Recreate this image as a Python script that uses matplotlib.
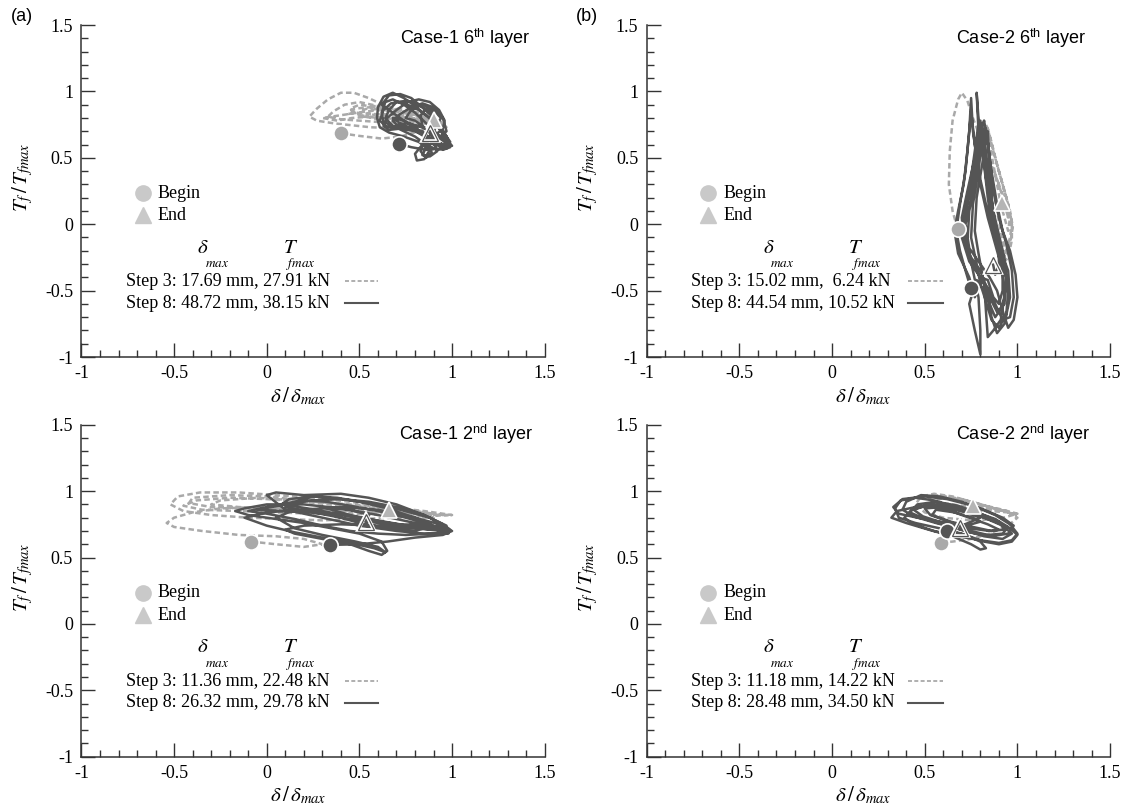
import matplotlib
matplotlib.use("Agg")
import matplotlib.pyplot as plt
from matplotlib.ticker import MultipleLocator, FuncFormatter

plt.rcParams["font.family"] = ["Liberation Serif", "DejaVu Serif"]
plt.rcParams["mathtext.fontset"] = "stix"
plt.rcParams["axes.unicode_minus"] = False

# ---------------- data: normalized displacement / friction force ----------------
# Case-1, 6th layer
c1l6_s3_d = [0.40, 0.50, 0.62, 0.72, 0.82, 0.92, 0.97, 0.93, 0.84, 0.74, 0.64, 0.55, 0.47, 0.40, 0.33, 0.27, 0.23,
             0.27, 0.36, 0.46, 0.56, 0.66, 0.76, 0.86, 0.94, 0.90, 0.80, 0.70, 0.60, 0.50, 0.42, 0.36, 0.33,
             0.40, 0.50, 0.60, 0.70, 0.80, 0.90, 0.85, 0.75, 0.65, 0.55, 0.47, 0.44,
             0.48, 0.58, 0.68, 0.78, 0.86, 0.80, 0.70, 0.60, 0.50, 0.45, 0.50, 0.60, 0.70, 0.80, 0.88, 0.82,
             0.72, 0.62, 0.54, 0.30, 0.38, 0.46, 0.56, 0.66, 0.76, 0.84, 0.78, 0.68, 0.58, 0.52,
             0.52, 0.62, 0.72, 0.82, 0.96, 0.88, 0.76, 0.64, 0.56, 0.54, 0.62, 0.72, 0.82, 0.90]
c1l6_s3_t = [0.685, 0.665, 0.645, 0.66, 0.70, 0.74, 0.73, 0.78, 0.82, 0.85, 0.89, 0.95, 0.99, 0.99, 0.94, 0.87, 0.81,
             0.78, 0.76, 0.745, 0.73, 0.725, 0.74, 0.76, 0.77, 0.80, 0.83, 0.86, 0.89, 0.92, 0.90, 0.85, 0.81,
             0.79, 0.78, 0.77, 0.765, 0.77, 0.78, 0.81, 0.84, 0.86, 0.88, 0.87, 0.83,
             0.84, 0.83, 0.82, 0.80, 0.79, 0.83, 0.86, 0.88, 0.90, 0.87, 0.82, 0.79, 0.78, 0.77, 0.78, 0.82,
             0.84, 0.86, 0.85, 0.80, 0.78, 0.80, 0.81, 0.80, 0.79, 0.80, 0.84, 0.87, 0.89, 0.86,
             0.81, 0.80, 0.79, 0.79, 0.74, 0.82, 0.86, 0.88, 0.86, 0.82, 0.83, 0.82, 0.81, 0.785]
c1l6_s8_d = [0.716, 0.78, 0.86, 0.94, 0.99, 0.97, 0.92, 0.86, 0.80, 0.74, 0.68, 0.63, 0.60, 0.595, 0.61, 0.66, 0.74,
             0.82, 0.88, 0.85, 0.81, 0.80, 0.84, 0.90, 0.95, 0.96, 0.93, 0.88, 0.82, 0.76, 0.70, 0.65, 0.63, 0.66,
             0.72, 0.80, 0.88, 0.95, 1.00, 0.98, 0.92, 0.86, 0.80, 0.74, 0.68, 0.64, 0.62, 0.63, 0.68, 0.76, 0.84,
             0.90, 0.92, 0.88, 0.84, 0.86, 0.92, 0.97, 0.95, 0.90, 0.84, 0.78, 0.72, 0.68, 0.70, 0.76, 0.82, 0.88,
             0.94, 0.98, 0.96, 0.90, 0.86,
             0.62, 0.66, 0.72, 0.78, 0.84, 0.90, 0.95, 0.99, 0.97, 0.92, 0.86, 0.80, 0.74, 0.68, 0.64,
             0.66, 0.70, 0.76, 0.82, 0.88, 0.93, 0.97, 0.96, 0.90, 0.84, 0.78, 0.72, 0.68,
             0.74, 0.80, 0.86, 0.89, 0.86, 0.83, 0.85, 0.90, 0.94, 0.90, 0.84, 0.78, 0.75,
             0.80, 0.86, 0.92, 0.95, 0.99, 0.97, 0.93, 0.88, 0.82, 0.76, 0.71, 0.67, 0.63, 0.61, 0.64, 0.70,
             0.84, 0.83, 0.86, 0.90, 0.92, 0.90, 0.883]
c1l6_s8_t = [0.605, 0.58, 0.56, 0.57, 0.60, 0.66, 0.74, 0.82, 0.89, 0.95, 0.99, 0.96, 0.88, 0.80, 0.73, 0.69, 0.66,
             0.62, 0.56, 0.49, 0.48, 0.53, 0.60, 0.66, 0.72, 0.78, 0.86, 0.92, 0.94, 0.92, 0.86, 0.80, 0.74, 0.71,
             0.72, 0.70, 0.65, 0.60, 0.59, 0.62, 0.68, 0.76, 0.84, 0.90, 0.94, 0.92, 0.84, 0.77, 0.74, 0.73, 0.70,
             0.62, 0.55, 0.51, 0.52, 0.58, 0.64, 0.70, 0.80, 0.88, 0.91, 0.88, 0.83, 0.78, 0.75, 0.76, 0.74, 0.70,
             0.64, 0.60, 0.58, 0.60, 0.66,
             0.90, 0.97, 0.98, 0.95, 0.88, 0.80, 0.70, 0.62, 0.57, 0.56, 0.60, 0.66, 0.70, 0.74, 0.80,
             0.86, 0.92, 0.93, 0.90, 0.84, 0.76, 0.66, 0.60, 0.62, 0.67, 0.72, 0.76, 0.80,
             0.78, 0.74, 0.64, 0.54, 0.50, 0.55, 0.62, 0.70, 0.80, 0.86, 0.90, 0.86, 0.80,
             0.78, 0.72, 0.62, 0.56, 0.58, 0.64, 0.72, 0.80, 0.86, 0.90, 0.92, 0.91, 0.86, 0.78, 0.74, 0.72,
             0.74, 0.82, 0.87, 0.84, 0.76, 0.72, 0.685]

# Case-2, 6th layer
c2l6_s3_d = [0.677, 0.65, 0.63, 0.635, 0.65, 0.68, 0.70, 0.73, 0.76, 0.80, 0.85, 0.90, 0.94, 0.97, 0.97, 0.95, 0.92,
             0.90, 0.88, 0.86, 0.84, 0.82, 0.81, 0.82, 0.84, 0.87, 0.90, 0.93, 0.96, 0.975, 0.96, 0.94, 0.92,
             0.90, 0.88, 0.86, 0.84, 0.83, 0.85, 0.88, 0.91, 0.94, 0.96, 0.95, 0.93,
             0.91, 0.89, 0.87, 0.85, 0.84, 0.86, 0.89, 0.92, 0.95, 0.97, 0.96, 0.94, 0.92, 0.90, 0.88, 0.86,
             0.85, 0.87, 0.90, 0.93, 0.95, 0.94, 0.917]
c2l6_s3_t = [-0.035, 0.10, 0.30, 0.55, 0.78, 0.94, 0.99, 0.93, 0.80, 0.65, 0.48, 0.30, 0.15, 0.02, -0.12, -0.25, -0.30,
             -0.20, -0.05, 0.10, 0.30, 0.50, 0.68, 0.78, 0.72, 0.55, 0.40, 0.25, 0.10, -0.02, -0.15, -0.22, -0.12,
             0.02, 0.18, 0.36, 0.55, 0.70, 0.66, 0.50, 0.35, 0.20, 0.05, -0.05, 0.05,
             0.15, 0.30, 0.45, 0.60, 0.72, 0.62, 0.45, 0.30, 0.15, 0.00, -0.10, -0.20, -0.28, -0.18, -0.02, 0.15,
             0.35, 0.42, 0.30, 0.15, 0.05, 0.10, 0.158]
c2l6_s8_d = [0.748, 0.72, 0.69, 0.67, 0.69, 0.72, 0.74, 0.75, 0.76, 0.79, 0.83, 0.87, 0.91, 0.95, 0.96, 0.93,
             0.89, 0.86, 0.84, 0.80, 0.75, 0.71, 0.70, 0.73, 0.77, 0.80, 0.82, 0.84, 0.86, 0.89, 0.92, 0.96,
             0.99, 1.00, 0.98, 0.95, 0.92, 0.89, 0.85, 0.80, 0.74, 0.72, 0.75, 0.78, 0.80, 0.81, 0.83,
             0.85, 0.87, 0.90, 0.93, 0.94, 0.92, 0.88, 0.85, 0.82, 0.78, 0.74, 0.77, 0.80, 0.80, 0.79,
             0.76, 0.73, 0.74, 0.78, 0.80, 0.78, 0.79, 0.82, 0.84, 0.86, 0.89, 0.92, 0.92, 0.90, 0.87, 0.84,
             0.80, 0.76, 0.72, 0.71, 0.74, 0.77, 0.79, 0.81, 0.83, 0.86, 0.89, 0.93, 0.95, 0.94, 0.90, 0.86,
             0.83, 0.80, 0.78, 0.75, 0.76, 0.79, 0.81, 0.83, 0.85, 0.87, 0.90, 0.94, 0.97, 0.98, 0.96, 0.92,
             0.88, 0.84, 0.79, 0.74, 0.70, 0.72, 0.76, 0.78, 0.80, 0.82, 0.84, 0.87, 0.91, 0.94, 0.93, 0.89,
             0.85, 0.81, 0.77, 0.74, 0.68, 0.66, 0.68, 0.71, 0.73, 0.75, 0.77, 0.80, 0.84, 0.88, 0.92, 0.93,
             0.91, 0.87, 0.84, 0.83, 0.82, 0.79, 0.77, 0.78, 0.81, 0.83, 0.84, 0.85, 0.86, 0.88, 0.90, 0.90,
             0.88, 0.869]
c2l6_s8_t = [-0.481, -0.35, -0.20, -0.05, 0.15, 0.40, 0.70, 0.95, 0.70, 0.40, 0.15, -0.05, -0.20, -0.35, -0.55, -0.75,
             -0.82, -0.70, -0.50, -0.35, -0.25, -0.12, 0.05, 0.25, 0.50, 0.72, 0.78, 0.62, 0.40, 0.15, -0.05, -0.20,
             -0.38, -0.55, -0.72, -0.78, -0.65, -0.50, -0.40, -0.30, -0.18, 0.00, 0.20, 0.45, 0.65, 0.75, 0.55,
             0.30, 0.10, -0.08, -0.25, -0.45, -0.62, -0.70, -0.60, -0.50, -0.42, -0.60, -0.80, -0.98, -0.80, -0.55,
             -0.35, -0.15, 0.10, 0.35, 0.60, 0.99, 0.70, 0.45, 0.20, 0.00, -0.15, -0.32, -0.50, -0.60, -0.55, -0.42,
             -0.40, -0.30, -0.15, 0.00, 0.25, 0.55, 0.76, 0.60, 0.35, 0.10, -0.10, -0.30, -0.50, -0.68, -0.78, -0.72,
             -0.58, -0.45, -0.30, -0.10, 0.15, 0.40, 0.65, 0.72, 0.50, 0.25, 0.05, -0.15, -0.35, -0.55, -0.70, -0.72,
             -0.60, -0.48, -0.38, -0.28, -0.10, 0.10, 0.35, 0.62, 0.78, 0.58, 0.30, 0.05, -0.18, -0.40, -0.60, -0.66,
             -0.55, -0.42, -0.55, -0.40, -0.22, -0.05, 0.10, 0.30, 0.55, 0.85, 0.60, 0.30, 0.05, -0.15, -0.35, -0.55,
             -0.72, -0.80, -0.85, -0.65, -0.45, -0.22, -0.05, 0.20, 0.45, 0.65, 0.70, 0.45, 0.20, 0.00, -0.15, -0.30,
             -0.38, -0.305]

# Case-1, 2nd layer
c1l2_s3_d = [-0.084, 0.05, 0.20, 0.30, 0.20, 0.05, -0.15, -0.35, -0.50, -0.54, -0.50, -0.40, -0.25, -0.05, 0.15, 0.35,
             0.55, 0.75, 0.95, 1.00, 0.85, 0.65, 0.45, 0.25, 0.05, -0.15, -0.36, -0.48, -0.52, -0.45, -0.30, -0.10,
             0.10, 0.30, 0.50, 0.70, 0.90, 0.80, 0.60, 0.40, 0.20, 0.00, -0.20, -0.38, -0.45, -0.35, -0.15, 0.05,
             0.25, 0.45, 0.65, 0.85, 0.98, 0.80, 0.60, 0.40, 0.20, 0.00, -0.20, -0.40, -0.42, -0.30, -0.10, 0.10,
             0.30, 0.50, 0.70, 0.90, 0.75, 0.55, 0.35, 0.15, -0.05, -0.25, -0.30, -0.15, 0.05, 0.25, 0.45, 0.662]
c1l2_s3_t = [0.62, 0.60, 0.58, 0.60, 0.64, 0.66, 0.67, 0.70, 0.73, 0.76, 0.80, 0.84, 0.87, 0.88, 0.87, 0.86,
             0.84, 0.83, 0.82, 0.82, 0.85, 0.88, 0.92, 0.95, 0.97, 0.99, 0.99, 0.96, 0.90, 0.85, 0.82, 0.80,
             0.79, 0.78, 0.79, 0.80, 0.80, 0.83, 0.86, 0.89, 0.92, 0.94, 0.95, 0.93, 0.89, 0.86, 0.85, 0.84,
             0.83, 0.83, 0.82, 0.81, 0.82, 0.84, 0.87, 0.90, 0.93, 0.96, 0.97, 0.95, 0.91, 0.88, 0.87, 0.86,
             0.85, 0.85, 0.84, 0.83, 0.86, 0.89, 0.91, 0.93, 0.95, 0.93, 0.90, 0.88, 0.87, 0.86, 0.85, 0.859]
c1l2_s8_d = [0.34, 0.50, 0.65, 0.80, 0.95, 1.00, 0.95, 0.80, 0.60, 0.40, 0.20, 0.00, -0.12, -0.17, -0.10, 0.05, 0.20,
             0.35, 0.50, 0.62, 0.65, 0.62, 0.55, 0.45, 0.30, 0.15, 0.10, 0.20, 0.40, 0.60, 0.80, 0.95, 0.98, 0.85,
             0.70, 0.50, 0.30, 0.10, 0.00, 0.05, 0.20, 0.40, 0.55, 0.70, 0.85, 0.95, 0.98, 0.90, 0.75, 0.60, 0.45,
             0.30, 0.15, 0.00, -0.10, 0.00, 0.15, 0.25, 0.38, 0.50, 0.65, 0.80, 0.90, 0.80, 0.65, 0.50, 0.35, 0.20,
             0.10, 0.20, 0.32, 0.45, 0.60, 0.75, 0.85, 0.70, 0.55, 0.40, 0.25,
             -0.05, 0.10, 0.25, 0.40, 0.55, 0.70, 0.85, 0.97, 0.90, 0.75, 0.60, 0.45, 0.30, 0.15, 0.05, 0.15, 0.30,
             0.48, 0.60, 0.64, 0.58, 0.45, 0.30, 0.15, 0.00, -0.12, 0.00, 0.20, 0.40, 0.60, 0.80, 0.96, 0.99,
             0.90, 0.72, 0.55, 0.38, 0.22, 0.08, 0.12, 0.25, 0.40, 0.56, 0.72, 0.88, 0.95, 0.80, 0.62, 0.45,
             0.30, 0.45, 0.55, 0.538]
c1l2_s8_t = [0.595, 0.60, 0.62, 0.65, 0.67, 0.70, 0.72, 0.76, 0.82, 0.87, 0.90, 0.90, 0.87, 0.85, 0.82, 0.79, 0.76,
             0.72, 0.68, 0.62, 0.55, 0.52, 0.55, 0.60, 0.64, 0.68, 0.71, 0.74, 0.75, 0.74, 0.72, 0.70, 0.68, 0.68,
             0.70, 0.74, 0.80, 0.86, 0.97, 0.99, 0.97, 0.98, 0.95, 0.90, 0.82, 0.75, 0.70, 0.68, 0.67, 0.68, 0.70,
             0.74, 0.79, 0.83, 0.85, 0.88, 0.92, 0.96, 0.95, 0.92, 0.87, 0.80, 0.74, 0.70, 0.72, 0.76, 0.82, 0.85,
             0.88, 0.93, 0.92, 0.89, 0.85, 0.80, 0.76, 0.74, 0.77, 0.80, 0.84,
             0.86, 0.90, 0.93, 0.94, 0.92, 0.88, 0.82, 0.74, 0.71, 0.73, 0.77, 0.81, 0.84, 0.86, 0.80, 0.72, 0.67,
             0.62, 0.58, 0.54, 0.57, 0.61, 0.65, 0.69, 0.74, 0.80, 0.84, 0.86, 0.88, 0.86, 0.80, 0.74, 0.71,
             0.72, 0.75, 0.79, 0.83, 0.87, 0.90, 0.94, 0.96, 0.94, 0.91, 0.86, 0.80, 0.74, 0.73, 0.77, 0.82,
             0.88, 0.86, 0.82, 0.764]

# Case-2, 2nd layer
c2l2_s3_d = [0.59, 0.65, 0.75, 0.85, 0.95, 1.00, 0.95, 0.85, 0.75, 0.65, 0.55, 0.48, 0.45, 0.50, 0.60, 0.75, 0.90,
             1.00, 0.92, 0.80, 0.70, 0.60, 0.55, 0.62, 0.72, 0.85, 0.95, 1.00, 0.90, 0.78, 0.66, 0.56, 0.52,
             0.60, 0.70, 0.82, 0.94, 0.85, 0.758]
c2l2_s3_t = [0.613, 0.62, 0.64, 0.68, 0.74, 0.80, 0.84, 0.88, 0.92, 0.96, 0.98, 0.96, 0.90, 0.84, 0.80, 0.78, 0.79,
             0.83, 0.86, 0.90, 0.94, 0.95, 0.92, 0.88, 0.86, 0.85, 0.84, 0.82, 0.86, 0.91, 0.95, 0.97, 0.94,
             0.91, 0.89, 0.87, 0.85, 0.87, 0.889]
c2l2_s8_d = [0.619, 0.72, 0.82, 0.90, 0.97, 1.00, 0.96, 0.88, 0.78, 0.66, 0.55, 0.45, 0.37, 0.34, 0.36, 0.45, 0.58,
             0.70, 0.80, 0.83, 0.80, 0.75, 0.65, 0.52, 0.40, 0.32, 0.35, 0.45, 0.58, 0.70, 0.82, 0.92, 0.97, 0.92,
             0.82, 0.70, 0.56, 0.44, 0.38, 0.40, 0.48, 0.58, 0.70, 0.82, 0.92, 0.98, 0.95, 0.86, 0.74, 0.62, 0.50,
             0.42, 0.46, 0.56, 0.68, 0.80, 0.90, 0.93, 0.85, 0.74, 0.63, 0.53, 0.50, 0.60, 0.72, 0.80,
             0.70, 0.58, 0.46, 0.36, 0.33, 0.38, 0.50, 0.62, 0.76, 0.88, 0.96, 1.00, 0.97, 0.90, 0.80, 0.68, 0.55,
             0.44, 0.39, 0.43, 0.54, 0.66, 0.78, 0.88, 0.95, 0.92, 0.84, 0.72, 0.60, 0.49, 0.44, 0.50, 0.62, 0.74,
             0.84, 0.90, 0.86, 0.76, 0.64, 0.54, 0.56, 0.66, 0.76, 0.80, 0.75, 0.69]
c2l2_s8_t = [0.703, 0.67, 0.62, 0.60, 0.62, 0.67, 0.72, 0.77, 0.82, 0.88, 0.93, 0.95, 0.93, 0.87, 0.80, 0.76, 0.72,
             0.68, 0.62, 0.57, 0.56, 0.60, 0.66, 0.71, 0.76, 0.80, 0.85, 0.88, 0.90, 0.86, 0.80, 0.74, 0.68, 0.64,
             0.66, 0.71, 0.76, 0.81, 0.86, 0.92, 0.97, 0.96, 0.92, 0.86, 0.80, 0.74, 0.68, 0.66, 0.69, 0.74, 0.79,
             0.84, 0.90, 0.92, 0.89, 0.83, 0.77, 0.71, 0.70, 0.72, 0.77, 0.82, 0.87, 0.88, 0.84, 0.80,
             0.74, 0.77, 0.80, 0.83, 0.88, 0.94, 0.96, 0.94, 0.89, 0.82, 0.75, 0.68, 0.63, 0.61, 0.63, 0.66, 0.70,
             0.75, 0.80, 0.86, 0.90, 0.88, 0.84, 0.79, 0.73, 0.68, 0.67, 0.71, 0.76, 0.81, 0.86, 0.89, 0.86, 0.80,
             0.75, 0.71, 0.70, 0.73, 0.77, 0.82, 0.86, 0.84, 0.80, 0.77, 0.75, 0.726]

panel_tags = ["(a)", "(b)", "", ""]
panel_cases = ["Case-1", "Case-2", "Case-1", "Case-2"]
panel_layers = ["6", "6", "2", "2"]
panel_suffix = ["th", "th", "nd", "nd"]
step3_labels = ["Step 3: 17.69 mm, 27.91 kN", "Step 3: 15.02 mm,  6.24 kN",
                "Step 3: 11.36 mm, 22.48 kN", "Step 3: 11.18 mm, 14.22 kN"]
step8_labels = ["Step 8: 48.72 mm, 38.15 kN", "Step 8: 44.54 mm, 10.52 kN",
                "Step 8: 26.32 mm, 29.78 kN", "Step 8: 28.48 mm, 34.50 kN"]
step3_series = [(c1l6_s3_d, c1l6_s3_t), (c2l6_s3_d, c2l6_s3_t), (c1l2_s3_d, c1l2_s3_t), (c2l2_s3_d, c2l2_s3_t)]
step8_series = [(c1l6_s8_d, c1l6_s8_t), (c2l6_s8_d, c2l6_s8_t), (c1l2_s8_d, c1l2_s8_t), (c2l2_s8_d, c2l2_s8_t)]

LIGHT = "#a9a9a9"
DARK = "#555555"
LEGEND_GREY = "#c9c9c9"
AXIS = "#333333"
DASH = (0, (2.2, 1.3))

fig = plt.figure(figsize=(11.22, 8.07), dpi=100)
axes_rects = [
    [0.0726, 0.5576, 0.4129, 0.4114],
    [0.5764, 0.5576, 0.4130, 0.4114],
    [0.0726, 0.0623, 0.4129, 0.4114],
    [0.5764, 0.0623, 0.4130, 0.4114],
]
title_x = [0.72, 0.667, 0.714, 0.667]
title_y = [1.40, 1.40, 1.43, 1.43]
sample_x0 = [0.42, 0.41, 0.42, 0.41]

for i, rect in enumerate(axes_rects):
    ax = fig.add_axes(rect)
    ax.set_xlim(-1, 1.5)
    ax.set_ylim(-1, 1.5)
    for side in ("top", "right"):
        ax.spines[side].set_visible(False)
    for side in ("left", "bottom"):
        ax.spines[side].set_color(AXIS)
        ax.spines[side].set_linewidth(1.1)
    ax.xaxis.set_major_locator(MultipleLocator(0.5))
    ax.yaxis.set_major_locator(MultipleLocator(0.5))
    ax.xaxis.set_minor_locator(MultipleLocator(0.1))
    ax.yaxis.set_minor_locator(MultipleLocator(0.1))
    fmt = FuncFormatter(lambda v, p: "%g" % (round(v, 2) + 0.0))
    ax.xaxis.set_major_formatter(fmt)
    ax.yaxis.set_major_formatter(fmt)
    ax.tick_params(which="major", direction="in", length=10, width=1.0, color=AXIS,
                   labelsize=13, pad=6)
    ax.tick_params(which="minor", direction="in", length=5, width=1.0, color=AXIS)

    # hysteresis trajectories
    d3, t3 = step3_series[i]
    d8, t8 = step8_series[i]
    ax.plot(d3, t3, color=LIGHT, lw=1.8, linestyle=DASH, zorder=2)
    ax.plot(d8, t8, color=DARK, lw=1.8, zorder=3)

    # begin / end markers
    ax.plot(d3[0], t3[0], "o", ms=11, mfc=LIGHT, mec="white", mew=1.2, zorder=5)
    ax.plot(d8[0], t8[0], "o", ms=11, mfc=DARK, mec="white", mew=1.2, zorder=5)
    ax.plot(d3[-1], t3[-1], "^", ms=12, mfc="#b5b5b5", mec="white", mew=1.2, zorder=5)
    ax.plot(d8[-1], t8[-1], "^", ms=12, mfc="none", mec="white", mew=2.6, zorder=5)
    ax.plot(d8[-1], t8[-1], "^", ms=12, mfc="none", mec=DARK, mew=0.9, zorder=6)

    # marker key
    ax.plot(-0.67, 0.234, "o", ms=11, mfc=LEGEND_GREY, mec=LEGEND_GREY)
    ax.plot(-0.67, 0.066, "^", ms=12, mfc=LEGEND_GREY, mec=LEGEND_GREY)
    ax.text(-0.588, 0.234, "Begin", fontsize=13, va="center", ha="left")
    ax.text(-0.588, 0.066, "End", fontsize=13, va="center", ha="left")

    # normalisation key
    ax.text(-0.375, -0.18, r"$\delta$", fontsize=15, va="center", ha="left")
    ax.text(-0.335, -0.30, r"$max$", fontsize=9.5, va="center", ha="left")
    ax.text(0.085, -0.18, r"$T$", fontsize=15, va="center", ha="left")
    ax.text(0.105, -0.30, r"$fmax$", fontsize=9.5, va="center", ha="left")
    ax.text(-0.762, -0.431, step3_labels[i], fontsize=13, va="center", ha="left")
    ax.text(-0.762, -0.594, step8_labels[i], fontsize=13, va="center", ha="left")
    ax.plot([sample_x0[i], 0.60], [-0.431, -0.431], color=LIGHT, lw=1.3, linestyle=DASH)
    ax.plot([sample_x0[i], 0.60], [-0.594, -0.594], color=DARK, lw=1.5)

    # panel title
    ax.text(title_x[i], title_y[i],
            "%s %s$^{\\mathregular{%s}}$ layer" % (panel_cases[i], panel_layers[i], panel_suffix[i]),
            fontsize=13, family="Liberation Sans", va="center", ha="left")

    ax.set_xlabel(r"$\delta\,/\,\delta_{max}$", fontsize=15, labelpad=0)
    ax.xaxis.set_label_coords(0.468, -0.085)
    ax.set_ylabel(r"$T_f\,/\,T_{fmax}$", fontsize=15, labelpad=0)
    ax.yaxis.set_label_coords(-0.10, 0.54)

    if panel_tags[i]:
        fig.text(rect[0] - 0.063, 0.98, panel_tags[i], fontsize=13, family="Liberation Sans",
                 va="center", ha="left")

fig.savefig("out.png", dpi=100)
